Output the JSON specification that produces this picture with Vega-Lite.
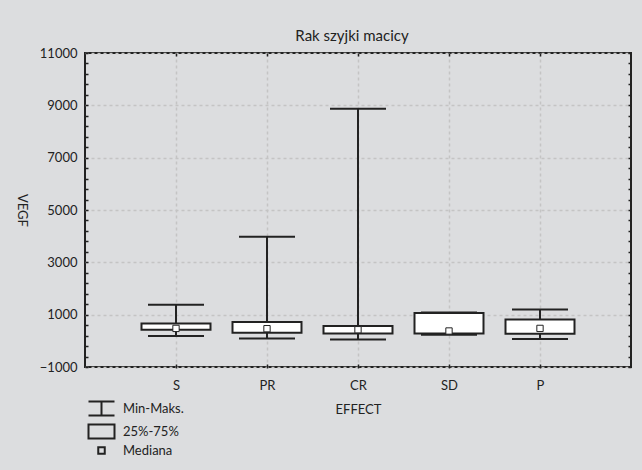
{
  "$schema": "https://vega.github.io/schema/vega-lite/v6.json",
  "width": 546,
  "height": 314,
  "autosize": {"type": "none"},
  "padding": {"left": 85, "top": 53, "right": 11, "bottom": 103},
  "background": "#dcdddf",
  "title": {"text": "Rak szyjki macicy", "frame": "group", "anchor": "middle", "baseline": "alphabetic", "offset": -9, "dx": -6, "fontSize": 15, "fontWeight": "normal", "color": "#222", "font": "Lato"},
  "config": {"font": "Lato", "view": {"fill": "white", "stroke": "#222", "strokeWidth": 2}},
  "datasets": {
    "stats": [
      {"effect": "S", "min": 185, "q1": 425, "median": 475, "q3": 666, "max": 1381},
      {"effect": "PR", "min": 93, "q1": 311, "median": 464, "q3": 720, "max": 3979},
      {"effect": "CR", "min": 55, "q1": 284, "median": 425, "q3": 567, "max": 8870},
      {"effect": "SD", "min": 235, "q1": 284, "median": 376, "q3": 1063, "max": 1085},
      {"effect": "P", "min": 70, "q1": 272, "median": 475, "q3": 819, "max": 1201}
    ],
    "legend": [
      {"item": "Min-Maks."},
      {"item": "25%-75%"},
      {"item": "Mediana"}
    ]
  },
  "resolve": {"axis": {"x": "independent", "y": "independent"}},
  "layer": [
    {
      "data": {"name": "stats"},
      "mark": {"type": "rule", "color": "#222", "strokeWidth": 2},
      "encoding": {
        "x": {"field": "effect", "type": "nominal", "sort": null, "scale": {"type": "point", "padding": 1},
          "axis": {"orient": "bottom", "title": "EFFECT", "labelAngle": 0, "labelFontSize": 13, "labelColor": "#222", "titleFontSize": 13, "titleFontWeight": "normal", "titleColor": "#222", "titlePadding": 11, "labelPadding": 12, "ticks": false, "domain": false, "grid": true, "gridColor": "#c4c4c4", "gridDash": [3, 3], "gridWidth": 1.5}},
        "y": {"field": "min", "type": "quantitative", "scale": {"domain": [-1000, 11000], "nice": false, "zero": false},
          "axis": {"orient": "left", "values": [-1000, 1000, 3000, 5000, 7000, 9000, 11000], "format": "d", "title": "VEGF", "titleAngle": 90, "titleX": -64, "titleY": 157, "titleAlign": "center", "titleBaseline": "middle", "titleFontSize": 13, "titleFontWeight": "normal", "titleColor": "#222", "labelFontSize": 13, "labelColor": "#222", "labelPadding": 8, "ticks": false, "domain": false, "grid": true, "gridColor": "#c4c4c4", "gridDash": [3, 3], "gridWidth": 1.5}},
        "y2": {"field": "max"}
      }
    },
    {
      "data": {"name": "stats"},
      "mark": {"type": "bar", "fill": "white", "stroke": "#222", "strokeWidth": 2, "size": 69},
      "encoding": {
        "x": {"field": "effect", "type": "nominal", "sort": null,
          "axis": {"orient": "top", "labels": false, "title": null, "offset": -3, "tickSize": 3, "tickColor": "#222", "tickWidth": 1.5, "domain": false, "grid": false}},
        "y": {"field": "q1", "type": "quantitative",
          "axis": {"orient": "left", "values": [-1000, -600, -200, 200, 600, 1000, 1400, 1800, 2200, 2600, 3000, 3400, 3800, 4200, 4600, 5000, 5400, 5800, 6200, 6600, 7000, 7400, 7800, 8200, 8600, 9000, 9400, 9800, 10200, 10600, 11000], "labels": false, "title": null, "offset": -3, "tickSize": 3, "tickColor": "#222", "tickWidth": 1.5, "domain": false, "grid": false}},
        "y2": {"field": "q3"}
      }
    },
    {
      "data": {"name": "stats"},
      "mark": {"type": "tick", "color": "#222", "thickness": 2, "size": 56, "opacity": 1},
      "encoding": {
        "x": {"field": "effect", "type": "nominal", "sort": null, "axis": null},
        "y": {"field": "max", "type": "quantitative",
          "axis": {"orient": "right", "values": [-1000, -600, -200, 200, 600, 1000, 1400, 1800, 2200, 2600, 3000, 3400, 3800, 4200, 4600, 5000, 5400, 5800, 6200, 6600, 7000, 7400, 7800, 8200, 8600, 9000, 9400, 9800, 10200, 10600, 11000], "labels": false, "title": null, "offset": -3, "tickSize": 3, "tickColor": "#222", "tickWidth": 1.5, "domain": false, "grid": false}}
      }
    },
    {
      "data": {"name": "stats"},
      "mark": {"type": "tick", "color": "#222", "thickness": 2, "size": 56, "opacity": 1},
      "encoding": {
        "x": {"field": "effect", "type": "nominal", "sort": null,
          "axis": {"orient": "bottom", "labels": false, "title": null, "offset": -3, "tickSize": 4, "tickColor": "#222", "tickWidth": 1.5, "domain": false, "grid": false}},
        "y": {"field": "min", "type": "quantitative", "axis": null}
      }
    },
    {
      "data": {"name": "stats"},
      "mark": {"type": "point", "shape": "square", "filled": true, "fill": "white", "stroke": "#222", "strokeWidth": 1, "size": 40, "opacity": 1},
      "encoding": {
        "x": {"field": "effect", "type": "nominal", "sort": null, "axis": null},
        "y": {"field": "median", "type": "quantitative", "axis": null}
      }
    },
    {
      "data": {"name": "legend"},
      "mark": {"type": "point", "filled": false, "color": "#222", "strokeWidth": 2, "opacity": 0},
      "encoding": {
        "shape": {"field": "item", "type": "nominal",
          "scale": {"domain": ["Min-Maks.", "25%-75%", "Mediana"], "range": ["M-2.6,-1.4H2.6M0,-1.4V1.4M-2.6,1.4H2.6", "M-2.6,-1.4H2.6V1.4H-2.6Z", "M-0.65,-0.65H0.65V0.65H-0.65Z"]},
          "legend": {"orient": "none", "legendX": 10, "legendY": 349, "title": null, "direction": "vertical", "symbolSize": 100, "symbolFillColor": "white", "symbolStrokeColor": "#222", "symbolStrokeWidth": 2, "symbolOpacity": 1, "labelFont": "Lato", "labelFontSize": 13, "labelColor": "#222", "labelOffset": 15, "rowPadding": 0, "padding": 0, "offset": 0,
            "encode": {"symbols": {"stroke": {"value": "#222"}, "strokeWidth": {"condition": {"test": "datum.value === 'Mediana'", "value": 1}, "value": 2}, "fill": {"value": "white"}, "opacity": {"value": 1}}}}}
      }
    }
  ]
}
